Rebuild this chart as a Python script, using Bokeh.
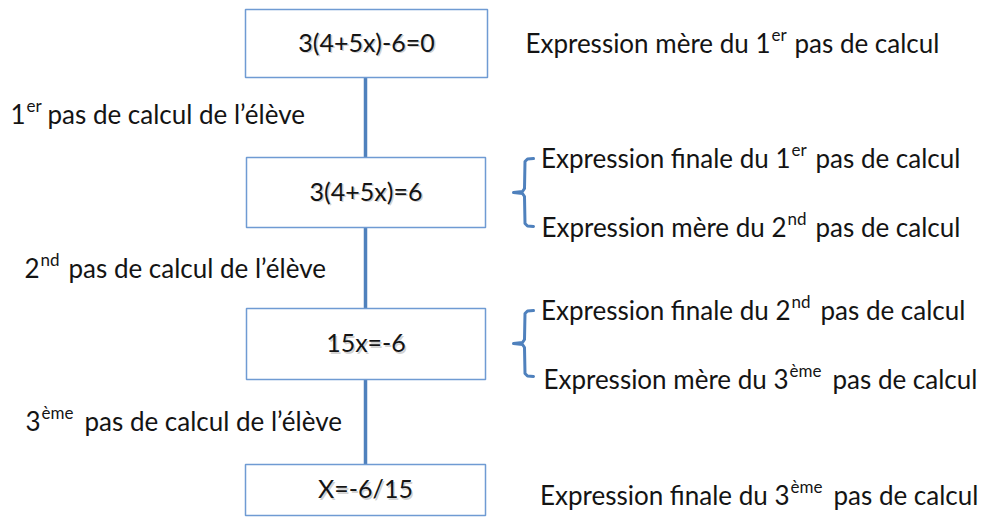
from bokeh.plotting import figure
from bokeh.models import Range1d, ColumnDataSource
from bokeh.core.properties import value
from bokeh.embed import file_html
from bokeh.resources import INLINE

# ---- content ----
box_labels = ["3(4+5x)-6=0", "3(4+5x)=6", "15x=-6", "X=-6/15"]

# left labels: number, superscript, rest
left_prefix = ["1", "2", "3"]
left_sup = ["er", "nd", "ème"]
left_rest = ["pas de calcul de l’élève"] * 3

# right labels
right_prefix = ["Expression mère du 1", "Expression finale du 1", "Expression mère du 2",
                "Expression finale du 2", "Expression mère du 3", "Expression finale du 3"]
right_sup = ["er", "er", "nd", "nd", "ème", "ème"]
right_rest = ["pas de calcul"] * 6

# ---- layout (pixel coordinates of the diagram) ----
box_left = [245, 246, 246, 245]
box_right = [487, 485, 485, 485]
box_top = [9, 157, 308, 464]
box_bottom = [77, 227, 379, 515]

left_xs = [26, 40, 41]
left_xr = [47, 68, 84]
left_cy = [116, 270, 423]

right_xs = [771, 791, 787, 791, 789, 790]
right_xr = [794, 815, 815, 820, 832, 833]
right_cy = [45, 160, 229, 312, 381, 497]

brace_top = [158, 310]
brace_bot = [226, 376]

FONT = "Lato"
BOXF = "25px"
MAIN = "26px"
SUP = "17px"
TXT = "#141414"
LINE_BLUE = "#4F81BD"
BOX_BLUE = "#6F9BD3"

p = figure(width=981, height=517, output_backend="svg", toolbar_location=None,
           x_range=Range1d(0, 981), y_range=Range1d(517, 0), min_border=0)
p.axis.visible = False
p.xgrid.visible = False
p.ygrid.visible = False
p.outline_line_color = None
p.background_fill_color = "white"
p.border_fill_color = "white"

# connector line
p.line(x=[365, 365], y=[box_bottom[0], box_top[-1]], line_color=LINE_BLUE, line_width=3.5)

# boxes
bsrc = ColumnDataSource(dict(l=box_left, r=box_right, t=box_top, b=box_bottom,
                             cx=[(a + b) / 2 for a, b in zip(box_left, box_right)],
                             cy=[(a + b) / 2 - 2 for a, b in zip(box_top, box_bottom)],
                             txt=box_labels))
p.quad(left="l", right="r", top="t", bottom="b", source=bsrc, fill_color="white",
       line_color=BOX_BLUE, line_width=1.5)
# soft shadow of the box texts
p.text(x="cx", y="cy", text="txt", source=bsrc, text_font=value(FONT),
       text_font_size=value(BOXF), text_align="center", text_baseline="middle",
       text_color="#9a9a9a", text_alpha=0.45, x_offset=1.5, y_offset=1.5)
p.text(x="cx", y="cy", text="txt", source=bsrc, text_font=value(FONT),
       text_font_size=value(BOXF), text_align="center", text_baseline="middle", text_color=TXT)


def labels(xs, xr, cy, a, s, r):
    src = ColumnDataSource(dict(xa=[x - 1 for x in xs], xs=xs, xr=xr,
                                ym=[c - 3 for c in cy], ys=[c - 11 for c in cy],
                                a=a, s=s, r=r))
    for xcol, ycol, tcol, size, align in (("xa", "ym", "a", MAIN, "right"),
                                          ("xs", "ys", "s", SUP, "left"),
                                          ("xr", "ym", "r", MAIN, "left")):
        p.text(x=xcol, y=ycol, text=tcol, source=src, text_font=value(FONT),
               text_font_size=value(size), text_align=align, text_baseline="middle",
               text_color=TXT)


labels(left_xs, left_xr, left_cy, left_prefix, left_sup, left_rest)
labels(right_xs, right_xr, right_cy, right_prefix, right_sup, right_rest)

# braces
xs_list, ys_list = [], []
for t, b in zip(brace_top, brace_bot):
    m = (t + b) / 2
    xs_list.append([533, 527, 524.5, 524, 522, 513, 522, 524, 524.5, 527, 533])
    ys_list.append([t, t + 0.5, t + 3, m - 4, m - 1, m, m + 1, m + 4, b - 3, b - 0.5, b])
p.multi_line(xs=xs_list, ys=ys_list, line_color=LINE_BLUE, line_width=3,
             line_join="round", line_cap="round")

open("out.html", "w").write(file_html(p, INLINE))
